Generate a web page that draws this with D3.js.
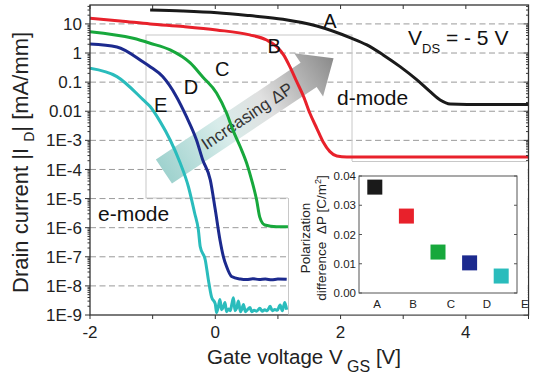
<!DOCTYPE html>
<html>
<head>
<meta charset="utf-8">
<script src="https://cdnjs.cloudflare.com/ajax/libs/d3/7.8.5/d3.min.js"></script>
<style>
  body { margin: 0; background: #fff; }
  svg { display: block; font-family: "Liberation Sans", Arial, sans-serif; }
  .pre { white-space: pre; }
</style>
</head>
<body>
<div id="chart"></div>
<script>
// transfer curves: [V_GS (V), |I_D| (mA/mm)]
var curveA = [[-1.04,30.3],[-0.52,28],[0.03,24.4],[0.55,19.3],[1.08,14.5],[1.62,8.5],[2.15,3.4],[2.42,1.9],
  [2.68,0.86],[2.95,0.34],[3.22,0.119],[3.43,0.047],[3.59,0.0245],[3.75,0.0178],[4.02,0.0172],[5,0.0172]];
var curveB = [[-2,15.7],[-1.52,12.7],[-1.04,10],[-0.51,8.1],[0.02,6.2],[0.55,4.2],[0.82,2.8],[0.98,1.66],
  [1.09,0.86],[1.19,0.34],[1.3,0.104],[1.41,0.0318],[1.51,0.0085],[1.62,0.0026],[1.72,9.0e-4],
  [1.83,4.1e-4],[1.94,2.9e-4],[2.1,2.7e-4],[5,2.7e-4]];
var curveC = [[-2,5.4],[-1.31,3.2],[-1.04,2.17],[-0.72,1.28],[-0.4,0.457],[-0.2,0.151],[0.02,0.0426],
  [0.18,0.0087],[0.28,0.0023],[0.4,5.9e-4],[0.5,1.66e-4],[0.58,4.4e-5],[0.66,8.9e-6],[0.71,2.3e-6],
  [0.79,1.24e-6],[0.98,1.08e-6],[1.16,1.08e-6]];
var curveD = [[-2,2.06],[-1.57,1.62],[-1.15,0.49],[-1.04,0.34],[-0.84,0.155],[-0.62,0.0317],[-0.46,0.0065],
  [-0.3,1.03e-3],[-0.2,2.1e-4],[-0.08,4.4e-5],[0,4.1e-6],[0.075,3.8e-7],[0.13,1.0e-7],[0.18,4.6e-8],
  [0.26,2.1e-8],[0.4,1.72e-8],[0.5,1.65e-8],[0.6,1.76e-8],[0.7,1.66e-8],[0.8,1.72e-8],[0.9,1.62e-8],
  [1.0,1.72e-8],[1.14,1.68e-8]];
var curveE = [[-2,0.30],[-1.57,0.155],[-1.15,0.0246],[-1.04,0.0145],[-0.88,0.0044],[-0.72,1.03e-3],
  [-0.56,1.66e-4],[-0.43,2.6e-5],[-0.33,3.2e-6],[-0.27,8.4e-7],[-0.24,2.2e-7],[-0.16,7.8e-8],
  [-0.11,1.6e-8],[-0.06,4.2e-9],[0,2.4e-9],[0.02,1.2e-9],[0.05,2.0e-9],[0.075,3.4e-9],[0.1,1.5e-9],
  [0.13,1.9e-9],[0.155,2.7e-9],[0.18,1.3e-9],[0.21,1.6e-9],[0.24,1.4e-9],[0.265,2.4e-9],[0.29,3.9e-9],
  [0.315,1.4e-9],[0.34,1.7e-9],[0.37,3.0e-9],[0.4,1.3e-9],[0.425,1.6e-9],[0.45,2.3e-9],[0.48,1.3e-9],
  [0.51,1.5e-9],[0.555,1.8e-9],[0.58,1.3e-9],[0.62,1.45e-9],[0.66,1.35e-9],[0.71,1.7e-9],[0.75,1.35e-9],
  [0.79,1.5e-9],[0.83,1.4e-9],[0.875,2.0e-9],[0.91,1.4e-9],[0.95,1.55e-9],[0.99,1.45e-9],[1.035,2.2e-9],
  [1.07,1.4e-9],[1.11,2.7e-9],[1.14,1.5e-9]];

var curveColors = ["#1a1a1a", "#e8212b", "#17a83c", "#1c2a8e", "#2abcbc"];

var xTicks = [-2, 0, 2, 4];
var yTickValues = [1e-9, 1e-8, 1e-7, 1e-6, 1e-5, 1e-4, 1e-3, 0.01, 0.1, 1, 10];
var yTickLabels = ["1E-9","1E-8","1E-7","1E-6","1E-5","1E-4","1E-3","0.01","0.1","1","10"];

// curve letters, placed at [V_GS, I_D]
var curveLabels = [["A",1.83,13],["B",0.94,1.8],["C",0.11,0.284],["D",-0.39,0.0668],["E",-0.87,0.0164]];

// inset: polarization difference per sample
var samples = ["A", "B", "C", "D", "E"];
var deltaP = [0.0362, 0.0263, 0.0140, 0.0103, 0.0058];
var sampleTickPos = [1.07, 2.21, 3.41, 4.55, 5.75];
var insetTicks = [0, 0.01, 0.02, 0.03, 0.04];

var W = 542, H = 384;
var P = {left: 90, right: 528.5, top: 5, bottom: 315};

var svg = d3.select("#chart").append("svg").attr("width", W).attr("height", H);

var x = d3.scaleLinear().domain([-2, 5]).range([P.left, P.right]);
var y = d3.scaleLog().domain([1e-9, Math.pow(10, 1.65)]).range([P.bottom, P.top]);

svg.append("clipPath").attr("id", "plotclip").append("rect")
  .attr("x", P.left).attr("y", P.top).attr("width", P.right - P.left).attr("height", P.bottom - P.top);

// dashed grid
svg.append("g").selectAll("line").data(yTickValues.slice(1)).enter().append("line")
  .attr("x1", P.left).attr("x2", P.right)
  .attr("y1", d => y(d)).attr("y2", d => y(d))
  .attr("stroke", "#9a9a9a").attr("stroke-width", 1).attr("stroke-dasharray", "6,3.5");

// light frame of the pasted arrow picture
svg.append("rect").attr("x", 146).attr("y", 35).attr("width", 206).attr("height", 163)
  .attr("fill", "none").attr("stroke", "#c8c8c8").attr("stroke-width", 1);

// arrow "Increasing dP"
var a0 = [x(-0.82), y(8.5e-5)], a1 = [x(1.49), y(0.177)];
var alen = Math.hypot(a1[0] - a0[0], a1[1] - a0[1]);
var aang = Math.atan2(a1[1] - a0[1], a1[0] - a0[0]) * 180 / Math.PI;
var grad = svg.append("defs").append("linearGradient").attr("id", "arrowgrad")
  .attr("gradientUnits", "userSpaceOnUse").attr("x1", 0).attr("y1", 0).attr("x2", alen + 30).attr("y2", 0);
[[0, "#9fd2ce"], [0.35, "#d8ecea"], [0.6, "#e0e0e0"], [1, "#8a8a8a"]].forEach(function(s) {
  grad.append("stop").attr("offset", s[0]).attr("stop-color", s[1]);
});
var arrow = svg.append("g").attr("transform", "translate(" + a0[0] + "," + a0[1] + ") rotate(" + aang + ")");
arrow.append("path")
  .attr("d", "M0,-14.5L" + alen + ",-14.5L" + alen + ",-26L" + (alen + 30) + ",0L" + alen + ",26L" + alen + ",14.5L0,14.5Z")
  .attr("fill", "url(#arrowgrad)");

// curves
var line = d3.line().x(d => x(d[0])).y(d => y(d[1])).curve(d3.curveMonotoneX);
svg.append("g").attr("clip-path", "url(#plotclip)").selectAll("path")
  .data([curveA, curveB, curveC, curveD, curveE]).enter().append("path")
  .attr("d", line).attr("fill", "none")
  .attr("stroke", (d, i) => curveColors[i]).attr("stroke-width", 3).attr("stroke-linejoin", "round");

arrow.append("text").attr("x", 100).attr("y", 0).attr("dy", "0.35em")
  .attr("text-anchor", "middle").attr("font-size", 17).attr("fill", "#333")
  .text("Increasing \u0394P");

// curve letters and notes
svg.append("g").selectAll("text").data(curveLabels).enter().append("text")
  .attr("x", d => x(d[1])).attr("y", d => y(d[2])).attr("dy", "0.36em")
  .attr("text-anchor", "middle").attr("font-size", 20).attr("fill", "#111")
  .text(d => d[0]);

var vds = svg.append("text").attr("x", x(3.077)).attr("y", y(1.9)).attr("font-size", 21).attr("fill", "#111");
vds.append("tspan").text("V");
vds.append("tspan").attr("font-size", 13).attr("dy", 8).text("DS");
vds.append("tspan").attr("dy", -8).attr("class", "pre").text(" = - 5 V");

svg.append("text").attr("x", x(1.943)).attr("y", y(0.0164)).attr("font-size", 21).attr("fill", "#111").text("d-mode");
svg.append("text").attr("x", x(-1.872)).attr("y", y(1.7e-6)).attr("font-size", 21).attr("fill", "#111").text("e-mode");

// plot frame and ticks
var axisColor = "#333";
svg.append("rect").attr("x", P.left).attr("y", P.top).attr("width", P.right - P.left).attr("height", P.bottom - P.top)
  .attr("fill", "none").attr("stroke", axisColor).attr("stroke-width", 1.3);

var ticksG = svg.append("g").attr("stroke", axisColor).attr("stroke-width", 1);
var ymax = y.domain()[1];
for (var dec = -9; dec <= 1; dec++) {
  for (var k = 1; k <= 9; k++) {
    var v = k * Math.pow(10, dec);
    if (v > ymax) break;
    var len = k === 1 ? 5 : 2.5;
    ticksG.append("line").attr("x1", P.left - len).attr("x2", P.left).attr("y1", y(v)).attr("y2", y(v));
    ticksG.append("line").attr("x1", P.right - len).attr("x2", P.right).attr("y1", y(v)).attr("y2", y(v));
  }
}
d3.range(-2, 6).forEach(function(t) {
  ticksG.append("line").attr("x1", x(t)).attr("x2", x(t)).attr("y1", P.bottom).attr("y2", P.bottom + 4);
  ticksG.append("line").attr("x1", x(t)).attr("x2", x(t)).attr("y1", P.top).attr("y2", P.top + 4);
});

svg.append("g").selectAll("text").data(yTickValues).enter().append("text")
  .attr("x", P.left - 8).attr("y", d => y(d)).attr("dy", "0.36em")
  .attr("text-anchor", "end").attr("font-size", 17).attr("fill", "#222")
  .text((d, i) => yTickLabels[i]);

svg.append("g").selectAll("text").data(xTicks).enter().append("text")
  .attr("x", d => x(d)).attr("y", 338)
  .attr("text-anchor", "middle").attr("font-size", 17).attr("fill", "#222")
  .text(d => d);

// axis titles
var xt = svg.append("text").attr("x", 207).attr("y", 364).attr("font-size", 20.5).attr("fill", "#222");
xt.append("tspan").text("Gate voltage V");
xt.append("tspan").attr("class", "pre").attr("font-size", 16).attr("dy", 8).text(" GS");
xt.append("tspan").attr("class", "pre").attr("dy", -8).text(" [V]");

var yt = svg.append("text").attr("transform", "translate(28,293) rotate(-90)")
  .attr("font-size", 22).attr("fill", "#222");
yt.append("tspan").attr("class", "pre").text("Drain current |I ");
yt.append("tspan").attr("font-size", 14).attr("dy", 6).text("D");
yt.append("tspan").attr("class", "pre").attr("dy", -6).text("| [mA/mm]");

// ---- inset ----
svg.append("rect").attr("x", 288).attr("y", 161).attr("width", P.right - 288 - 0.7).attr("height", P.bottom - 161 - 0.7)
  .attr("fill", "#fff");
svg.append("path").attr("d", "M352,161.5H" + (P.right - 1) + "M288.5,198V" + (P.bottom - 1))
  .attr("fill", "none").attr("stroke", "#c8c8c8");

var I = {left: 359, right: 517, top: 176, bottom: 293};
var ix = d3.scaleLinear().domain([0.5, 5.5]).range([I.left, I.right]);
var iy = d3.scaleLinear().domain([0, 0.04]).range([I.bottom, I.top]);

svg.append("rect").attr("x", I.left).attr("y", I.top).attr("width", I.right - I.left).attr("height", I.bottom - I.top)
  .attr("fill", "none").attr("stroke", "#555").attr("stroke-width", 1);

var iticks = svg.append("g").attr("stroke", "#555");
insetTicks.forEach(function(t) {
  iticks.append("line").attr("x1", I.left).attr("x2", I.left + 3).attr("y1", iy(t)).attr("y2", iy(t));
  iticks.append("line").attr("x1", I.right - 3).attr("x2", I.right).attr("y1", iy(t)).attr("y2", iy(t));
});

svg.append("g").selectAll("rect").data(deltaP).enter().append("rect")
  .attr("x", (d, i) => ix(i + 1) - 7.5).attr("y", d => iy(d) - 7.5)
  .attr("width", 15).attr("height", 15)
  .attr("fill", (d, i) => curveColors[i]);

svg.append("g").selectAll("text").data(insetTicks).enter().append("text")
  .attr("x", I.left - 3).attr("y", d => iy(d)).attr("dy", "0.36em")
  .attr("text-anchor", "end").attr("font-size", 11.5).attr("fill", "#222")
  .text(d3.format(".2f"));

svg.append("g").selectAll("text").data(samples).enter().append("text")
  .attr("x", (d, i) => ix(sampleTickPos[i])).attr("y", 308)
  .attr("text-anchor", "middle").attr("font-size", 11.5).attr("fill", "#222")
  .text(d => d);

svg.append("text").attr("transform", "translate(310,238) rotate(-90)")
  .attr("text-anchor", "middle").attr("font-size", 13.5).attr("fill", "#222").text("Polarization");
var it2 = svg.append("text").attr("transform", "translate(326,238) rotate(-90)")
  .attr("text-anchor", "middle").attr("font-size", 13.5).attr("fill", "#222");
it2.append("tspan").attr("class", "pre").text("difference  \u0394P [C/m");
it2.append("tspan").attr("font-size", 9).attr("dy", -5).text("2");
it2.append("tspan").attr("dy", 5).text("]");
</script>
</body>
</html>
